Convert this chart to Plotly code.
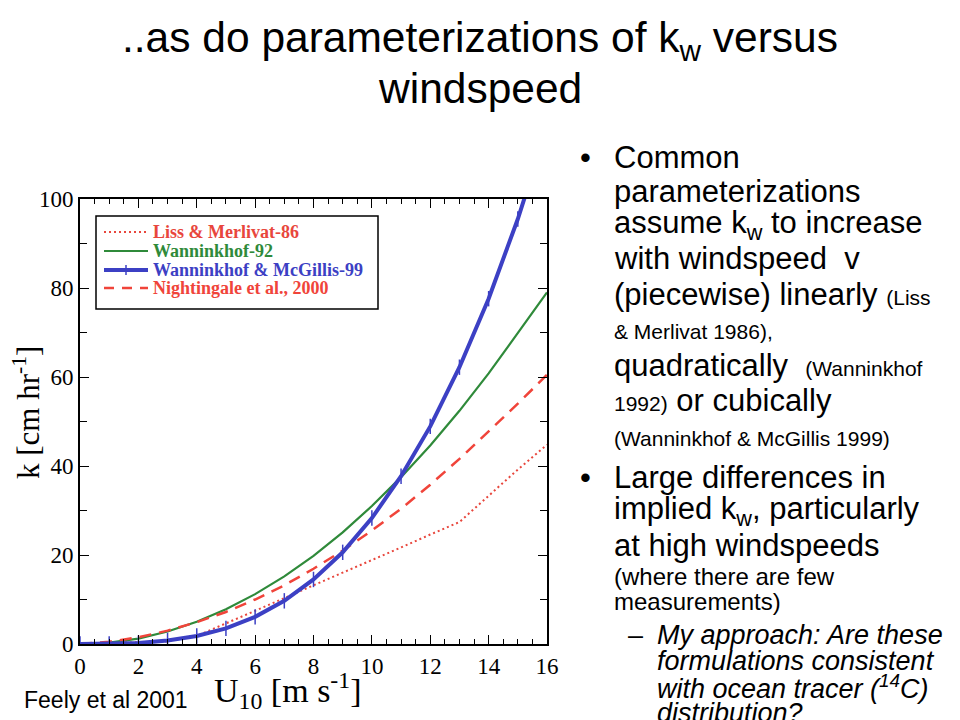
import plotly.graph_objects as go

# ---- data ----
wind_speed = list(range(0, 17))
liss_merlivat_86 = [0, 0.2, 0.3, 0.6, 1.8, 4.6, 7.4, 10.3, 13.2, 16.0, 18.9, 21.7, 24.6, 27.4, 33.3, 39.2, 44.8]
wanninkhof_92 = [0, 0.3, 1.2, 2.8, 5.0, 7.8, 11.2, 15.2, 19.8, 25.1, 31.0, 37.5, 44.6, 52.4, 60.8, 69.8, 79.0]
wanninkhof_mcgillis_99 = [0, 0.03, 0.2, 0.8, 1.8, 3.5, 6.1, 9.7, 14.5, 20.6, 28.3, 37.7, 48.9, 62.2, 77.6, 95.5, 116]
nightingale_2000 = [0, 0.5, 1.5, 3.0, 4.9, 7.2, 10.0, 13.2, 16.9, 21.0, 25.5, 30.4, 35.8, 41.6, 47.8, 54.0, 60.5]

series_names = ["Liss & Merlivat-86", "Wanninkhof-92", "Wanninkhof & McGillis-99", "Nightingale et al., 2000"]
x_ticks = [0, 2, 4, 6, 8, 10, 12, 14, 16]
y_ticks = [0, 20, 40, 60, 80, 100]

# page has an 8px body margin: work in screen pixels and convert
OFF = 8
W, H = 960 - OFF, 720 - OFF
def px(x):
    return (x - OFF) / W
def py(y):
    return 1 - (y - OFF) / H

RED1 = "#e8463c"
RED2 = "#f0443a"
GREEN = "#2f8a3a"
BLUE = "#3c40c4"
SERIF = "Liberation Serif, Times New Roman, serif"
SANS = "Liberation Sans, Arial, sans-serif"

fig = go.Figure()
fig.add_trace(go.Scatter(x=wind_speed, y=liss_merlivat_86, mode="lines", name=series_names[0],
                         line=dict(color=RED1, width=2, dash="2px,3px")))
fig.add_trace(go.Scatter(x=wind_speed, y=wanninkhof_92, mode="lines", name=series_names[1],
                         line=dict(color=GREEN, width=2.2)))
fig.add_trace(go.Scatter(x=wind_speed, y=nightingale_2000, mode="lines", name=series_names[3],
                         line=dict(color=RED2, width=2.5, dash="12px,8px")))
fig.add_trace(go.Scatter(x=wind_speed, y=wanninkhof_mcgillis_99, mode="lines+markers", name=series_names[2],
                         line=dict(color=BLUE, width=4),
                         marker=dict(symbol="line-ns", size=11, line=dict(color=BLUE, width=1.5))))

axis_common = dict(showgrid=False, zeroline=False, showline=True, linecolor="black", linewidth=2,
                   mirror="allticks", ticks="inside", ticklen=9, tickwidth=1.3, tickcolor="black",
                   automargin=False,
                   tickfont=dict(family=SERIF, size=23, color="black"))

fig.update_xaxes(range=[0, 16], tickvals=x_ticks, domain=[px(80), px(547)],
                 minor=dict(dtick=0.5, ticks="inside", ticklen=5, tickcolor="black", tickwidth=1),
                 **axis_common)
fig.update_yaxes(range=[0, 100], tickvals=y_ticks, domain=[py(644), py(199)],
                 minor=dict(dtick=10, ticks="inside", ticklen=7, tickcolor="black", tickwidth=1),
                 **axis_common)

ann = []
def txt(s, x, y, size, family=SANS, anchor="left", color="black", angle=0):
    ann.append(dict(text=s, x=px(x), y=py(y), xref="paper", yref="paper", xanchor=anchor,
                    yanchor="middle", showarrow=False, textangle=angle, borderpad=0,
                    font=dict(family=family, size=size, color=color)))

# axis titles
txt("k [cm hr<sup>-1</sup>]", 26, 413, 31, family=SERIF, anchor="center", angle=-90)
txt("U<sub>10</sub> [m s<sup>-1</sup>]", 288, 690, 34, family=SERIF, anchor="center")

# manual legend
shapes = [dict(type="rect", xref="paper", yref="paper", x0=px(96), x1=px(378), y0=py(309), y1=py(216),
               line=dict(color="black", width=1.5), fillcolor="white", layer="below")]
rows = [232, 251, 270, 288]
styles = [(RED1, 2, "2px,3px"), (GREEN, 2.2, "solid"), (BLUE, 4, "solid"), (RED2, 2.5, "10px,8px")]
for (c, w, d), r, name in zip(styles, rows, series_names):
    shapes.append(dict(type="line", xref="paper", yref="paper", x0=px(104), x1=px(148), y0=py(r), y1=py(r),
                       line=dict(color=c, width=w, dash=d)))
    txt("<b>%s</b>" % name.replace("&", "&amp;"), 152, r, 18, family=SERIF, color=c)
shapes.append(dict(type="line", xref="paper", yref="paper", x0=px(126), x1=px(126),
                   y0=py(rows[2] - 5), y1=py(rows[2] + 5), line=dict(color=BLUE, width=1.5)))

# title
txt("..as do parameterizations of k<sub>w</sub> versus", 480, 40, 42.5, anchor="center")
txt("windspeed", 480, 88, 42.5, anchor="center")

# right-hand bullet text
S = "font-size:21px"
lines = [
    (157, "Common", 31),
    (191, "parameterizations", 31),
    (225, "assume k<sub>w</sub> to increase", 31),
    (259, "with windspeed  v", 31),
    (294, "(piecewise) linearly <span style='%s'>(Liss</span>" % S, 31),
    (331, "<span style='%s'>&amp; Merlivat 1986),</span>" % S, 31),
    (366, "quadratically  <span style='%s'>(Wanninkhof</span>" % S, 31),
    (400, "<span style='%s'>1992)</span> or cubically" % S, 31),
    (438, "<span style='%s'>(Wanninkhof &amp; McGillis 1999)</span>" % S, 31),
    (477, "Large differences in", 31),
    (511, "implied k<sub>w</sub>, particularly", 31),
    (545, "at high windspeeds", 31),
    (576, "(where there are few", 24),
    (601, "measurements)", 24),
]
for y, s, size in lines:
    txt(s, 613, y, size)
txt("•", 585, 157, 31, anchor="center")
txt("•", 585, 477, 31, anchor="center")
txt("–", 635, 635, 27, anchor="center")
for y, s in [(635, "My approach: Are these"), (661, "formulations consistent"),
             (687, "with ocean tracer (<sup>14</sup>C)"), (713, "distribution?")]:
    txt("<i>%s</i>" % s, 656, y, 27)

txt("Feely et al 2001", 23, 700, 23)

fig.update_layout(width=W, height=H, margin=dict(l=0, r=0, t=0, b=0, autoexpand=False), showlegend=False,
                  paper_bgcolor="white", plot_bgcolor="white", annotations=ann, shapes=shapes)

fig.write_html("out.html")
